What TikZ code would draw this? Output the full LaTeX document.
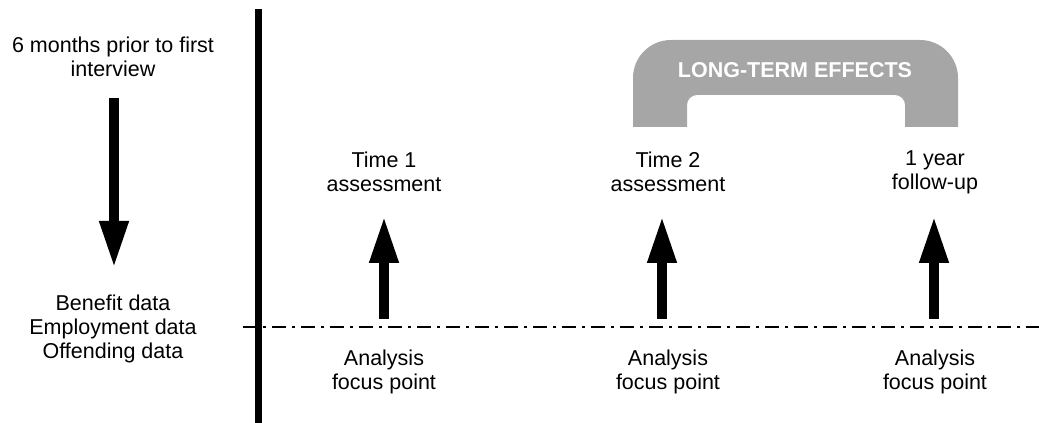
\documentclass[tikz,border=0pt]{standalone}
\usepackage{fontspec}
\setmainfont{Liberation Sans}
\usetikzlibrary{arrows.meta}
\definecolor{archgray}{HTML}{A6A6A6}
\tikzset{
  lbl/.style={align=center, font=\fontsize{21.5}{24}\selectfont, inner sep=0pt},
  bigarrow/.style={line width=10pt, -{Triangle[length=47pt,width=27pt]}},
  timeline/.style={line width=2.2pt, dash pattern=on 14pt off 6pt on 3pt off 6pt},
  wall/.style={line width=7pt}
}
\begin{document}
\begin{tikzpicture}[x=1pt,y=1pt]
\useasboundingbox (0,0) rectangle (1039,423);
% vertical wall
\coordinate (wtop) at (258,414);
\coordinate (wbot) at (258,0);
\draw[wall] (wtop) -- (wbot);
% timeline
\coordinate (ls) at (243,96);
\coordinate (le) at (1039,96);
\draw[timeline] (ls) -- (le);
% arch
\fill[archgray] (633,296) -- (633,345) arc[start angle=180,end angle=90,radius=38]
  -- (920,383) arc[start angle=90,end angle=0,radius=38]
  -- (958,296) -- (905,296) -- (905,318) arc[start angle=0,end angle=90,radius=10]
  -- (697,328) arc[start angle=90,end angle=180,radius=10] -- (687,296) -- cycle;
\node[font=\fontsize{21.5}{24}\selectfont\bfseries, text=white, inner sep=0pt] (lte) at (795,353) {LONG-TERM EFFECTS};
% left texts
\node[lbl] (prior) at (113,366) {6 months prior to first\\interview};
\node[lbl] (data) at (113,94) {Benefit data\\Employment data\\Offending data};
\coordinate (dstart) at (114,325);
\coordinate (dend) at (114,155);
\draw[bigarrow] (dstart) -- (dend);
% time points
\node[lbl] (t1) at (384,251) {Time 1\\assessment};
\node[lbl] (t2) at (668,251) {Time 2\\assessment};
\node[lbl] (t3) at (935,251) {1 year\\follow-up};
\node[lbl] (a1) at (384,51) {Analysis\\focus point};
\node[lbl] (a2) at (668,51) {Analysis\\focus point};
\node[lbl] (a3) at (935,51) {Analysis\\focus point};
\coordinate (u1s) at (384,104);
\coordinate (u1e) at (384,207);
\coordinate (u2s) at (662,104);
\coordinate (u2e) at (662,207);
\coordinate (u3s) at (934,104);
\coordinate (u3e) at (934,207);
\draw[bigarrow] (u1s) -- (u1e);
\draw[bigarrow] (u2s) -- (u2e);
\draw[bigarrow] (u3s) -- (u3e);
\end{tikzpicture}
\end{document}
